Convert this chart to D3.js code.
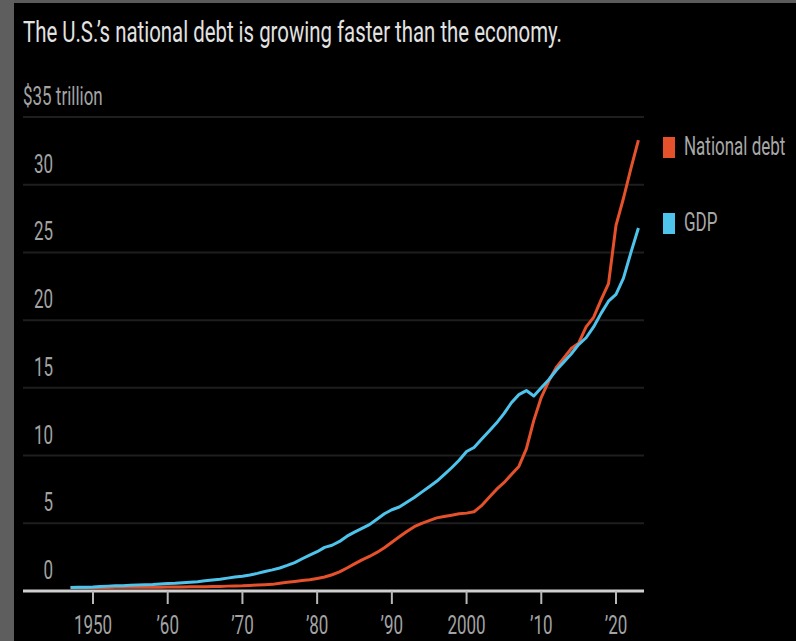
<!DOCTYPE html>
<html>
<head>
<meta charset="utf-8">
<script src="https://cdn.jsdelivr.net/npm/d3@7"></script>
<style>
  body { margin: 0; background: #000; }
  svg { display: block; }
</style>
</head>
<body>
<script>

//============================================================
// Data
//------------------------------------------------------------

var years = d3.range(1947, 2024);

// trillions of dollars
var debt = [
  0.26, 0.25, 0.25, 0.26, 0.26, 0.26, 0.27, 0.27, 0.27, 0.27,   // 1947-56
  0.27, 0.28, 0.28, 0.29, 0.29, 0.30, 0.31, 0.32, 0.32, 0.33,   // 1957-66
  0.34, 0.36, 0.37, 0.38, 0.41, 0.44, 0.47, 0.49, 0.58, 0.65,   // 1967-76
  0.71, 0.78, 0.83, 0.93, 1.03, 1.20, 1.41, 1.70, 2.00, 2.30,   // 1977-86
  2.55, 2.85, 3.20, 3.60, 4.00, 4.40, 4.75, 5.00, 5.20, 5.40,   // 1987-96
  5.50, 5.60, 5.70, 5.75, 5.85, 6.30, 6.90, 7.50, 8.00, 8.60,   // 1997-2006
  9.20, 10.5, 12.6, 14.3, 15.5, 16.5, 17.2, 17.9, 18.3, 19.5,   // 2007-16
  20.2, 21.5, 22.7, 27.0, 29.0, 31.2, 33.3                      // 2017-23
];

var gdp = [
  0.25, 0.27, 0.28, 0.30, 0.34, 0.36, 0.38, 0.39, 0.42, 0.45,   // 1947-56
  0.47, 0.48, 0.52, 0.55, 0.57, 0.61, 0.65, 0.69, 0.75, 0.82,   // 1957-66
  0.87, 0.95, 1.03, 1.09, 1.18, 1.30, 1.44, 1.56, 1.70, 1.89,   // 1967-76
  2.10, 2.38, 2.65, 2.90, 3.22, 3.38, 3.66, 4.05, 4.35, 4.62,   // 1977-86
  4.90, 5.30, 5.70, 6.00, 6.20, 6.55, 6.90, 7.30, 7.70, 8.10,   // 1987-96
  8.60, 9.10, 9.65, 10.3, 10.6, 11.2, 11.8, 12.4, 13.1, 13.9,   // 1997-2006
  14.5, 14.8, 14.4, 15.0, 15.6, 16.3, 16.9, 17.5, 18.2, 18.7,   // 2007-16
  19.5, 20.5, 21.4, 21.9, 23.1, 25.0, 26.8                      // 2017-23
];

var yTicks = [0, 5, 10, 15, 20, 25, 30, 35];
var xTicks = [1950, 1960, 1970, 1980, 1990, 2000, 2010, 2020];
var xTickLabels = ['1950', '\u201960', '\u201970', '\u201980', '\u201990', '2000', '\u201910', '\u201920'];

var seriesNames = ['National debt', 'GDP'];
var seriesColors = ['#e4512b', '#4ec4ec'];

//============================================================


var width = 796
  , height = 641
  , plot = {left: 23, right: 644, top: 117, bottom: 591}
  , squeeze = 0.68
  , labelColor = '#a3a3a3'
  , fontFamily = 'Roboto, "Liberation Sans", sans-serif'
  ;

var x = d3.scaleLinear().domain([1950, 2020]).range([93, 616]);
var y = d3.scaleLinear().domain([0, 35]).range([plot.bottom, plot.top]);

var svg = d3.select('body').append('svg')
    .attr('width', width)
    .attr('height', height);

// frame: slide background peeking in at the top and left
svg.append('rect').attr('width', width).attr('height', height).attr('fill', '#000');
svg.append('rect').attr('width', width).attr('height', 3).attr('fill', '#5b5b5b');
svg.append('rect').attr('width', 14).attr('height', height).attr('fill', '#5e5e5e');

function condensed(sel, px, py) {
  return sel.attr('transform', 'translate(' + px + ',' + py + ') scale(' + squeeze + ',1)');
}

//------------------------------------------------------------
// Title

svg.append('text')
    .attr('x', 23)
    .attr('y', 42)
    .attr('textLength', 539)
    .attr('lengthAdjust', 'spacingAndGlyphs')
    .style('font-family', fontFamily)
    .style('font-size', '29px')
    .style('fill', '#e2e2e2')
    .text('The U.S.\u2019s national debt is growing faster than the economy.');

//------------------------------------------------------------
// Grid and y labels

var grid = svg.append('g').attr('class', 'grid');

grid.selectAll('line')
    .data(yTicks.filter(function(d) { return d > 0 }))
  .enter().append('line')
    .attr('x1', plot.left)
    .attr('x2', plot.right)
    .attr('y1', function(d) { return y(d) })
    .attr('y2', function(d) { return y(d) })
    .style('stroke', '#1e1e1e')
    .style('stroke-width', 2);

var yLabels = svg.append('g').attr('class', 'y-labels')
    .style('font-family', fontFamily)
    .style('font-size', '25px')
    .style('fill', labelColor);

yLabels.selectAll('text')
    .data(yTicks)
  .enter().append('text')
    .attr('text-anchor', function(d) { return d === 35 ? 'start' : 'end' })
    .each(function(d) {
      condensed(d3.select(this), d === 35 ? plot.left : 53, y(d) - 12);
    })
    .text(function(d) { return d === 35 ? '$35 trillion' : d });

//------------------------------------------------------------
// Lines

var line = d3.line()
    .x(function(d) { return x(d[0]) })
    .y(function(d) { return y(d[1]) });

[debt, gdp].forEach(function(values, i) {
  svg.append('path')
      .datum(years.map(function(yr, j) { return [yr, values[j]] }))
      .attr('d', line)
      .style('fill', 'none')
      .style('stroke', seriesColors[i])
      .style('stroke-width', 3)
      .style('stroke-linejoin', 'round');
});

//------------------------------------------------------------
// X axis

var xAxis = svg.append('g').attr('class', 'x-axis');

xAxis.append('line')
    .attr('x1', plot.left)
    .attr('x2', plot.right)
    .attr('y1', plot.bottom)
    .attr('y2', plot.bottom)
    .style('stroke', '#d0d0d0')
    .style('stroke-width', 3);

xAxis.selectAll('line.tick')
    .data(xTicks)
  .enter().append('line')
    .attr('class', 'tick')
    .attr('x1', function(d) { return x(d) })
    .attr('x2', function(d) { return x(d) })
    .attr('y1', plot.bottom)
    .attr('y2', plot.bottom + 13)
    .style('stroke', '#b8b8b8')
    .style('stroke-width', 2);

xAxis.selectAll('text')
    .data(xTicks)
  .enter().append('text')
    .attr('text-anchor', 'middle')
    .each(function(d) { condensed(d3.select(this), x(d), 634); })
    .style('font-family', fontFamily)
    .style('font-size', '25px')
    .style('fill', labelColor)
    .text(function(d, i) { return xTickLabels[i] });

//------------------------------------------------------------
// Legend

var legend = svg.append('g').attr('class', 'legend');

var items = legend.selectAll('g')
    .data(seriesNames)
  .enter().append('g')
    .attr('transform', function(d, i) { return 'translate(663,' + (137 + i * 76) + ')' });

items.append('rect')
    .attr('width', 12)
    .attr('height', 21)
    .style('fill', function(d, i) { return seriesColors[i] });

items.append('text')
    .each(function() { condensed(d3.select(this), 21, 18); })
    .style('font-family', fontFamily)
    .style('font-size', '25px')
    .style('fill', '#a8a8a8')
    .text(function(d) { return d });

</script>
</body>
</html>
